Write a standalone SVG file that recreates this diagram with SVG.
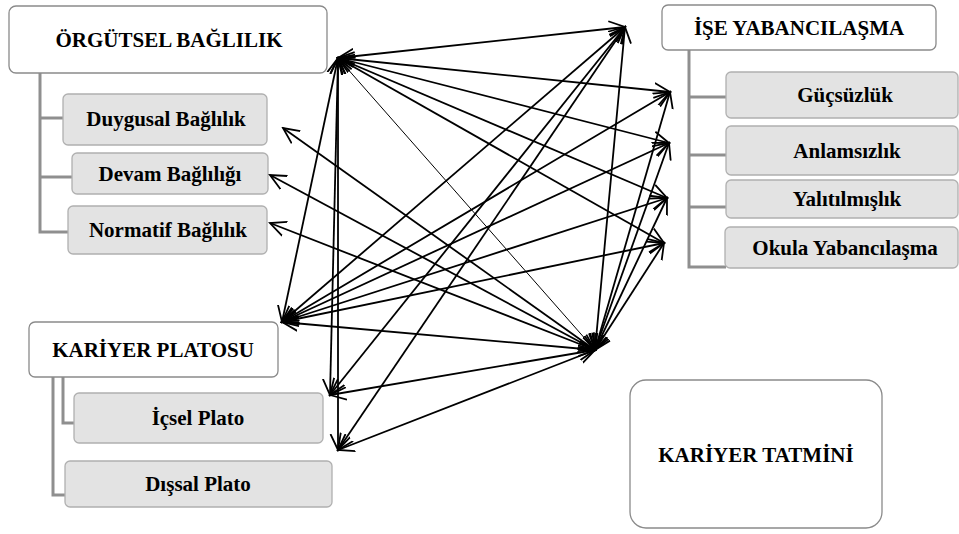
<svg xmlns="http://www.w3.org/2000/svg" width="959" height="534" viewBox="0 0 959 534">
<defs>
<marker id="ah" viewBox="0 0 18 18" refX="16" refY="9" markerWidth="18" markerHeight="18" markerUnits="userSpaceOnUse" orient="auto-start-reverse">
<path d="M0,1.5 L16,9 L0,16.5" fill="none" stroke="#000" stroke-width="1.8"/>
</marker>
<style>
.main{fill:#fff;stroke:#8a8a8a;stroke-width:1.3}
.sub{fill:#e3e3e3;stroke:#b0b0b0;stroke-width:1.3}
.t{font-weight:bold;font-size:21px;fill:#000;text-anchor:middle}
.br{fill:none;stroke:#8f8f8f;stroke-width:3}
.c line{stroke:#000;stroke-width:1.8;marker-start:url(#ah);marker-end:url(#ah)}
.c line.thin{stroke-width:1}
</style>
</defs>
<rect width="959" height="534" fill="#fff"/>

<g id="orgutsel">
<path class="br" d="M40,73 V232 H68 M40,118 H63 M40,177 H72"/>
<rect class="main" x="9" y="6" width="318" height="67" rx="7"/>
<text class="t" font-family="Liberation Serif, Tinos, DejaVu Serif, serif" x="169" y="47">ÖRGÜTSEL BAĞLILIK</text>
</g>
<g id="duygusal"><rect class="sub" x="63" y="94" width="204" height="51" rx="5"/><text class="t" font-family="Liberation Serif, Tinos, DejaVu Serif, serif" x="166" y="126">Duygusal Bağlılık</text></g>
<g id="devam"><rect class="sub" x="72" y="153" width="196" height="41" rx="5"/><text class="t" font-family="Liberation Serif, Tinos, DejaVu Serif, serif" x="170" y="181">Devam Bağlılığı</text></g>
<g id="normatif"><rect class="sub" x="68" y="206" width="199" height="48" rx="5"/><text class="t" font-family="Liberation Serif, Tinos, DejaVu Serif, serif" x="168" y="237">Normatif Bağlılık</text></g>

<g id="ise">
<path class="br" d="M689,50 V267 H726 M689,97 H726 M689,155 H726 M689,207 H726"/>
<rect class="main" x="662" y="5" width="274" height="45" rx="6"/>
<text class="t" font-family="Liberation Serif, Tinos, DejaVu Serif, serif" x="799" y="35">İŞE YABANCILAŞMA</text>
</g>
<g id="gucsuzluk"><rect class="sub" x="726" y="72" width="232" height="46" rx="5"/><text class="t" font-family="Liberation Serif, Tinos, DejaVu Serif, serif" x="845" y="102">Güçsüzlük</text></g>
<g id="anlamsizlik"><rect class="sub" x="726" y="126" width="232" height="49" rx="5"/><text class="t" font-family="Liberation Serif, Tinos, DejaVu Serif, serif" x="847" y="158">Anlamsızlık</text></g>
<g id="yalitilmislik"><rect class="sub" x="726" y="180" width="232" height="38" rx="5"/><text class="t" font-family="Liberation Serif, Tinos, DejaVu Serif, serif" x="847" y="206">Yalıtılmışlık</text></g>
<g id="okula"><rect class="sub" x="725" y="227" width="233" height="41" rx="5"/><text class="t" font-family="Liberation Serif, Tinos, DejaVu Serif, serif" x="845" y="255">Okula Yabancılaşma</text></g>

<g id="plato">
<path class="br" d="M63,377 V423 H74 M53,377 V495 H65"/>
<rect class="main" x="29" y="322" width="249" height="55" rx="6"/>
<text class="t" font-family="Liberation Serif, Tinos, DejaVu Serif, serif" x="153" y="357">KARİYER PLATOSU</text>
</g>
<g id="icsel"><rect class="sub" x="74" y="393" width="249" height="50" rx="5"/><text class="t" font-family="Liberation Serif, Tinos, DejaVu Serif, serif" x="198" y="425">İçsel Plato</text></g>
<g id="dissal"><rect class="sub" x="65" y="461" width="267" height="46" rx="5"/><text class="t" font-family="Liberation Serif, Tinos, DejaVu Serif, serif" x="198" y="491">Dışsal Plato</text></g>

<g id="tatmin">
<rect class="main" x="630" y="380" width="252" height="148" rx="16"/>
<text class="t" font-family="Liberation Serif, Tinos, DejaVu Serif, serif" x="756" y="462">KARİYER TATMİNİ</text>
</g>

<g id="connectors" class="c">
<line x1="338" y1="58" x2="625" y2="27"/>
<line x1="338" y1="58" x2="670" y2="92"/>
<line x1="338" y1="58" x2="669" y2="143"/>
<line x1="338" y1="58" x2="667" y2="198"/>
<line x1="338" y1="58" x2="664" y2="243"/>
<line class="thin" x1="338" y1="58" x2="595" y2="350"/>
<line x1="338" y1="58" x2="282" y2="322"/>
<line x1="338" y1="58" x2="330" y2="395"/>
<line x1="338" y1="58" x2="338" y2="450"/>
<line x1="625" y1="27" x2="282" y2="322"/>
<line x1="625" y1="27" x2="330" y2="395"/>
<line x1="625" y1="27" x2="338" y2="450"/>
<line x1="625" y1="27" x2="595" y2="350"/>
<line x1="282" y1="322" x2="670" y2="92"/>
<line x1="282" y1="322" x2="669" y2="143"/>
<line x1="282" y1="322" x2="667" y2="198"/>
<line x1="282" y1="322" x2="664" y2="243"/>
<line x1="282" y1="322" x2="595" y2="350"/>
<line x1="595" y1="350" x2="670" y2="92"/>
<line x1="595" y1="350" x2="669" y2="143"/>
<line x1="595" y1="350" x2="667" y2="198"/>
<line x1="595" y1="350" x2="664" y2="243"/>
<line x1="595" y1="350" x2="283" y2="128"/>
<line x1="595" y1="350" x2="270" y2="175"/>
<line x1="595" y1="350" x2="270" y2="223"/>
<line x1="595" y1="350" x2="330" y2="395"/>
<line x1="595" y1="350" x2="338" y2="450"/>
</g>
</svg>
